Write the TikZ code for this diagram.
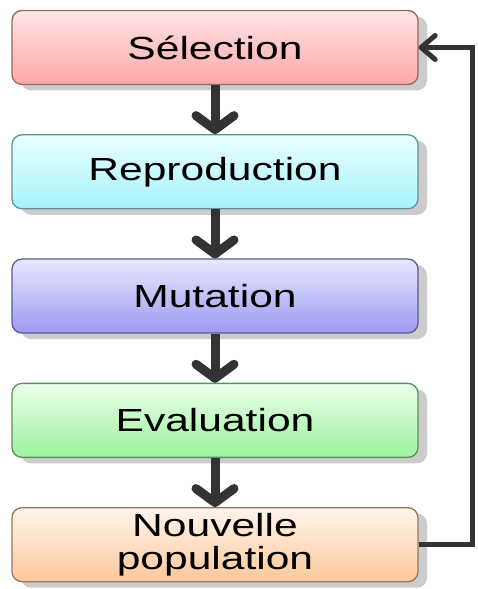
\documentclass[tikz,border=0pt]{standalone}
\usepackage{fontspec}
\setmainfont[FakeStretch=1.33]{Liberation Sans}
\usetikzlibrary{positioning,shadows,arrows.meta}

\definecolor{selTop}{HTML}{FDE6E6}
\definecolor{selBot}{HTML}{FFA6A6}
\definecolor{repTop}{HTML}{EAFFFF}
\definecolor{repBot}{HTML}{A6F2FA}
\definecolor{mutTop}{HTML}{E8E8FF}
\definecolor{mutBot}{HTML}{9A9AF2}
\definecolor{evaTop}{HTML}{EAFFEA}
\definecolor{evaBot}{HTML}{9CF29C}
\definecolor{popTop}{HTML}{FFF5EC}
\definecolor{popBot}{HTML}{FDC79A}

\tikzset{
  stage/.style={draw=#1!60!black, line width=1.3pt, rounded corners=10pt,
    minimum width=406pt, minimum height=74pt, inner sep=2pt, align=center,
    font=\fontsize{32}{33}\selectfont,
    drop shadow={shadow xshift=9pt, shadow yshift=-6pt, fill=gray!50, opacity=0.8}},
  flow/.style={line width=9pt, draw=black!80,
    -{Straight Barb[length=14pt, width=38pt, line cap=round, line join=round]}},
  loop/.style={line width=5pt, draw=black!80,
    -{Straight Barb[length=14pt, width=24pt, line cap=round, line join=round]}}
}

\begin{document}
\begin{tikzpicture}
  \useasboundingbox (0,0) rectangle (478pt,589pt);

  % stages of the loop
  \node[stage=selBot, top color=selTop, bottom color=selBot] (sel) at (215pt,541.5pt) {Sélection};
  \node[stage=repBot, top color=repTop, bottom color=repBot, below=49pt of sel] (rep) {Reproduction};
  \node[stage=mutBot, top color=mutTop, bottom color=mutBot, below=49pt of rep] (mut) {Mutation};
  \node[stage=evaBot, top color=evaTop, bottom color=evaBot, below=49pt of mut] (eva) {Evaluation};
  \node[stage=popBot, top color=popTop, bottom color=popBot, below=49pt of eva] (pop) {Nouvelle\\population};

  \draw[flow] (sel) -- (rep);
  \draw[flow] (rep) -- (mut);
  \draw[flow] (mut) -- (eva);
  \draw[flow] (eva) -- (pop);

  % back to the selection
  \coordinate[right=54pt of pop.east] (back);
  \draw[loop] (pop.east) -- (back) |- (sel.east);
\end{tikzpicture}
\end{document}
